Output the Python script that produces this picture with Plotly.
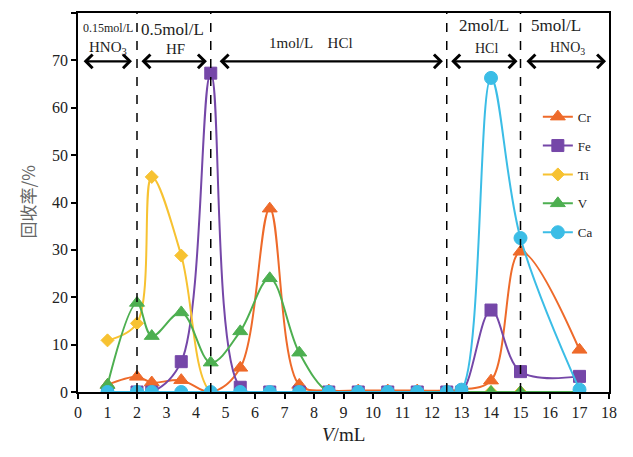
import plotly.graph_objects as go

volume = [1, 2, 2.5, 3.5, 4.5, 5.5, 6.5, 7.5, 8.5, 9.5, 10.5, 11.5, 12.5, 13, 14, 15, 17]
cr = [1.5, 3.2, 2.0, 2.5, 0.0, 5.1, 38.7, 1.5, 0.3, 0.3, 0.3, 0.3, 0.3, 0.5, 2.4, 29.6, 8.9]
fe = [0, 0, 0, 6.4, 67.3, 1.0, 0, 0, 0, 0, 0, 0, 0, 0, 17.3, 4.3, 3.3]
ti = [10.9, 14.5, 45.4, 28.8, 0, 0, 0, 0, 0, 0, 0, 0, 0, 0, 0, 0, 0]
v = [1.5, 18.8, 11.8, 16.8, 6.2, 12.8, 24.0, 8.3, 0, 0, 0, 0, 0, 0, 0, 0, 0]
ca = [0, 0, 0, 0, 0, 0, 0, 0, 0, 0, 0, 0, 0, 0.5, 66.3, 32.5, 0.5]

series_names = ["Cr", "Fe", "Ti", "V", "Ca"]
series_values = [cr, fe, ti, v, ca]
colors = ["#EE6A2A", "#7547A8", "#F7C231", "#4DAF50", "#3BBDE6"]
markers = ["triangle-up", "square", "diamond", "triangle-up", "circle"]
msizes = [13, 12, 10, 13, 13]

boundaries = [2, 4.5, 12.5, 15]
x_ticks = list(range(0, 19))
y_ticks = list(range(0, 81, 10))

serif = "Liberation Serif"

fig = go.Figure()
for name, vals, c, m, s in zip(series_names, series_values, colors, markers, msizes):
    fig.add_trace(go.Scatter(
        x=volume, y=vals, name=name, mode="lines+markers",
        line=dict(color=c, width=2, shape="spline", smoothing=1.0),
        marker=dict(symbol=m, size=s, color=c, line=dict(color=c, width=1)),
        legendgroup=name,
    ))

for b in boundaries:
    fig.add_shape(type="line", x0=b, x1=b, y0=0, y1=80, xref="x", yref="y",
                  line=dict(color="black", width=1.5, dash="dash"))

arrows = [(0.14, 1.83), (2.1, 4.37), (4.75, 12.37), (12.6, 14.9), (15.15, 17.9)]
for a0, a1 in arrows:
    fig.add_annotation(x=a1, y=69.8, ax=a0, ay=69.8, xref="x", yref="y", axref="x", ayref="y",
                       showarrow=True, arrowside="end+start", arrowhead=4, arrowsize=1.2,
                       arrowwidth=2.2, arrowcolor="black", text="")

labels = [
    (1.0, 76.8, "0.15mol/L", 12),
    (1.0, 72.6, "HNO<sub>3</sub>", 15),
    (3.2, 76.6, "0.5mol/L", 17),
    (3.3, 72.3, "HF", 15),
    (7.9, 73.6, "1mol/L    HCl", 15),
    (13.76, 77.4, "2mol/L", 17),
    (13.86, 72.6, "HCl", 14),
    (16.2, 77.4, "5mol/L", 17),
    (16.6, 72.6, "HNO<sub>3</sub>", 14),
]
for x, y, t, fs in labels:
    fig.add_annotation(x=x, y=y, xref="x", yref="y", text=t, showarrow=False,
                       font=dict(family=serif, size=fs, color="#222"))

# axis titles
fig.add_annotation(x=0.5, y=0, xref="paper", yref="paper", yanchor="top", yshift=-30,
                   text="<i>V</i>/mL", showarrow=False,
                   font=dict(family=serif, size=19, color="#222"))
fig.add_annotation(x=-51 / 531, y=0.5, xref="paper", yref="paper", xanchor="center",
                   yanchor="middle", text="回收率/%", textangle=-90, showarrow=False,
                   font=dict(family="Noto Sans CJK SC", size=17, color="#666"))

fig.update_layout(
    width=633, height=457,
    margin=dict(l=70, r=32, t=5, b=73),
    paper_bgcolor="white", plot_bgcolor="white",
    font=dict(family=serif, color="#222"),
    showlegend=True,
    legend=dict(x=0.866, y=0.766, xanchor="left", yanchor="top",
                font=dict(family=serif, size=13, color="#222"),
                tracegroupgap=9, bgcolor="rgba(0,0,0,0)", itemwidth=30),
    xaxis=dict(range=[0, 18], tickvals=x_ticks, ticks="outside", ticklen=5,
               tickcolor="black", tickwidth=1.5, showline=True, linecolor="black",
               linewidth=1.5, mirror=True, showgrid=False, zeroline=False, automargin=False,
               tickfont=dict(family=serif, size=16, color="#222")),
    yaxis=dict(range=[0, 80], tickvals=y_ticks, ticks="outside", ticklen=5,
               tickcolor="black", tickwidth=1.5, showline=True, linecolor="black",
               linewidth=1.5, mirror=True, showgrid=False, zeroline=False, automargin=False,
               tickfont=dict(family=serif, size=16, color="#222")),
)

fig.write_html("out.html")
